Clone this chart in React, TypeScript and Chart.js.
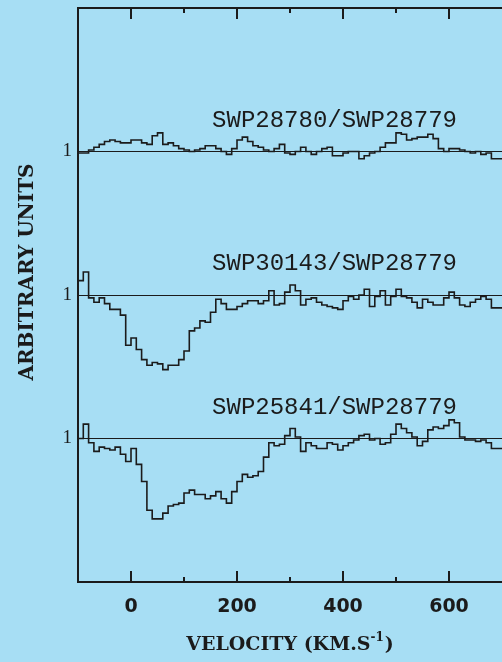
import React, { useEffect, useRef } from "react";
import { Chart, registerables } from "chart.js";

Chart.register(...registerables);

// Velocity bins (km/s): left edge of first bin and bin width
const BIN_START = -100;
const BIN_WIDTH = 10;

// Normalised flux ratios, one value per 10 km/s bin from -100 to 700 km/s
const fluxSWP28780 = [
  1.10, 0.99, 0.99, 1.01, 1.03, 1.05, 1.07, 1.08, 1.07, 1.06,
  1.06, 1.08, 1.08, 1.06, 1.05, 1.11, 1.13, 1.05, 1.06, 1.04,
  1.02, 1.01, 1.00, 1.01, 1.02, 1.04, 1.04, 1.02, 1.00, 0.98,
  1.02, 1.08, 1.10, 1.07, 1.04, 1.03, 1.01, 1.00, 1.02, 1.05,
  0.99, 0.98, 1.00, 1.03, 1.00, 0.98, 1.00, 1.02, 1.03, 0.97,
  0.97, 0.99, 1.00, 1.00, 0.95, 0.97, 0.99, 1.00, 1.03, 1.06,
  1.06, 1.13, 1.12, 1.08, 1.09, 1.10, 1.10, 1.12, 1.09, 1.02,
  1.00, 1.02, 1.02, 1.01, 1.00, 0.99, 1.00, 0.98, 0.99, 0.95,
];

const fluxSWP30143 = [
  1.03, 1.10, 1.16, 0.98, 0.95, 0.98, 0.94, 0.90, 0.90, 0.86,
  0.65, 0.70, 0.62, 0.55, 0.51, 0.53, 0.52, 0.48, 0.51, 0.51,
  0.55, 0.61, 0.75, 0.77, 0.82, 0.81, 0.88, 0.97, 0.94, 0.90,
  0.90, 0.92, 0.94, 0.96, 0.96, 0.94, 0.96, 1.03, 0.93, 0.94,
  1.02, 1.07, 1.03, 0.93, 0.97, 0.98, 0.95, 0.93, 0.92, 0.91,
  0.90, 0.96, 0.99, 0.97, 1.00, 1.04, 0.92, 0.99, 1.03, 0.93,
  0.99, 1.04, 0.99, 0.98, 0.95, 0.91, 0.97, 0.95, 0.93, 0.93,
  0.98, 1.02, 0.98, 0.93, 0.92, 0.95, 0.97, 0.99, 0.97, 0.91,
];

const fluxSWP25841 = [
  0.90, 1.00, 1.10, 0.97, 0.91, 0.94, 0.93, 0.92, 0.94, 0.89,
  0.84, 0.93, 0.82, 0.70, 0.50, 0.44, 0.44, 0.48, 0.53, 0.54,
  0.55, 0.62, 0.64, 0.61, 0.61, 0.58, 0.60, 0.63, 0.58, 0.55,
  0.63, 0.70, 0.75, 0.73, 0.74, 0.77, 0.87, 0.97, 0.95, 0.96,
  1.02, 1.07, 1.01, 0.91, 0.97, 0.95, 0.93, 0.93, 0.97, 0.96,
  0.92, 0.95, 0.97, 0.99, 1.02, 1.03, 0.99, 1.00, 0.96, 0.97,
  1.03, 1.10, 1.07, 1.04, 1.01, 0.95, 0.98, 1.06, 1.08, 1.07,
  1.09, 1.13, 1.11, 1.01, 0.99, 0.99, 0.98, 0.99, 0.97, 0.93,
];

const seriesLabels = ["SWP28780/SWP28779", "SWP30143/SWP28779", "SWP25841/SWP28779"];
const seriesOffsets = [2, 1, 0];
const xTickLabels = [0, 200, 400, 600];
const yTickLabel = "1";
const xTitle = "VELOCITY (KM.S";
const xTitleSup = "-1";
const yTitle = "ARBITRARY UNITS";

const BG = "#a7def4";
const INK = "#1b1b1b";

function toPoints(flux: number[], offset: number) {
  const pts = flux.map((f, i) => ({ x: BIN_START + i * BIN_WIDTH, y: f + offset }));
  pts.push({ x: BIN_START + flux.length * BIN_WIDTH, y: flux[flux.length - 1] + offset });
  return pts;
}

const decorPlugin = {
  id: "decor",
  afterDraw(chart: any) {
    const { ctx, chartArea, scales } = chart;
    const xs = scales.x;
    const ys = scales.y;
    const { left, right, top, bottom } = chartArea;
    ctx.save();
    ctx.strokeStyle = INK;
    ctx.lineWidth = 2;
    // frame (right side falls outside the picture)
    ctx.beginPath();
    ctx.moveTo(right + 2, top);
    ctx.lineTo(left, top);
    ctx.lineTo(left, bottom);
    ctx.lineTo(right + 2, bottom);
    ctx.stroke();
    // inward tick marks, top and bottom
    for (let v = 0; v <= 600; v += 100) {
      const px = xs.getPixelForValue(v);
      const len = v % 200 === 0 ? 11 : 5;
      ctx.beginPath();
      ctx.moveTo(px, bottom);
      ctx.lineTo(px, bottom - len);
      ctx.moveTo(px, top);
      ctx.lineTo(px, top + len);
      ctx.stroke();
    }
    // spectrum labels
    ctx.fillStyle = INK;
    ctx.font = '24px "Liberation Mono"';
    ctx.textAlign = "left";
    ctx.textBaseline = "alphabetic";
    seriesLabels.forEach((lab, i) => {
      const px = xs.getPixelForValue(153);
      const py = ys.getPixelForValue(seriesOffsets[i] + 1) - 25;
      ctx.fillText(lab, px, py);
    });
    // x title with superscript
    const mainFont = 'bold 19px "DejaVu Serif"';
    const supFont = 'bold 12px "DejaVu Serif"';
    ctx.font = mainFont;
    const w1 = ctx.measureText(xTitle).width;
    const w3 = ctx.measureText(")").width;
    ctx.font = supFont;
    const w2 = ctx.measureText(xTitleSup).width;
    const total = w1 + w2 + w3 + 1;
    const cx = (left + right) / 2;
    let x0 = cx - total / 2;
    const by = 650;
    ctx.font = mainFont;
    ctx.fillText(xTitle, x0, by);
    x0 += w1;
    ctx.font = supFont;
    ctx.fillText(xTitleSup, x0, by - 9);
    x0 += w2 + 1;
    ctx.font = mainFont;
    ctx.fillText(")", x0, by);
    // y title
    ctx.save();
    ctx.translate(33, 272);
    ctx.rotate(-Math.PI / 2);
    ctx.font = 'bold 20px "DejaVu Serif"';
    ctx.textAlign = "center";
    ctx.textBaseline = "alphabetic";
    ctx.fillText(yTitle, 0, 0);
    ctx.restore();
    ctx.restore();
  },
};

export default function App() {
  const ref = useRef<HTMLCanvasElement | null>(null);
  useEffect(() => {
    if (!ref.current) return;
    document.body.style.background = BG;
    const fluxes = [fluxSWP28780, fluxSWP30143, fluxSWP25841];
    const chart = new Chart(ref.current, {
      type: "line",
      data: {
        datasets: fluxes.map((f, i) => ({
          label: seriesLabels[i],
          data: toPoints(f, seriesOffsets[i]),
          stepped: "after" as const,
          borderColor: INK,
          borderWidth: 1.6,
          pointRadius: 0,
          fill: false,
        })),
      },
      options: {
        animation: false,
        responsive: false,
        events: [],
        layout: { padding: { top: 8, right: 0, left: 0, bottom: 0 } },
        plugins: { legend: { display: false }, tooltip: { enabled: false } },
        scales: {
          x: {
            type: "linear",
            min: -100,
            max: 700,
            border: { display: false },
            grid: { display: false, drawTicks: false },
            afterFit: (s: any) => {
              s.height = 80;
              s.paddingLeft = 0;
              s.paddingRight = 0;
            },
            ticks: {
              stepSize: 100,
              autoSkip: false,
              maxRotation: 0,
              padding: 14,
              color: INK,
              font: { family: '"DejaVu Sans"', weight: "bold", size: 19 },
              callback: (v: any) => (xTickLabels.includes(Number(v)) ? String(v) : ""),
            },
          },
          y: {
            type: "linear",
            min: 0,
            max: 4,
            border: { display: false },
            afterFit: (s: any) => {
              s.width = 78;
              s.paddingTop = 0;
              s.paddingBottom = 0;
            },
            afterBuildTicks: (s: any) => {
              s.ticks = seriesOffsets.map((o) => ({ value: o + 1 }));
            },
            grid: { color: INK, lineWidth: 1, drawTicks: false },
            ticks: {
              padding: 6,
              color: INK,
              font: { family: '"Liberation Serif"', size: 19 },
              callback: () => yTickLabel,
            },
          },
        },
      },
      plugins: [decorPlugin],
    });
    return () => chart.destroy();
  }, []);
  return (
    <div style={{ position: "fixed", left: 0, top: 0, width: 502, height: 662, background: BG }}>
      <canvas ref={ref} width={502} height={662} style={{ display: "block" }} />
    </div>
  );
}
